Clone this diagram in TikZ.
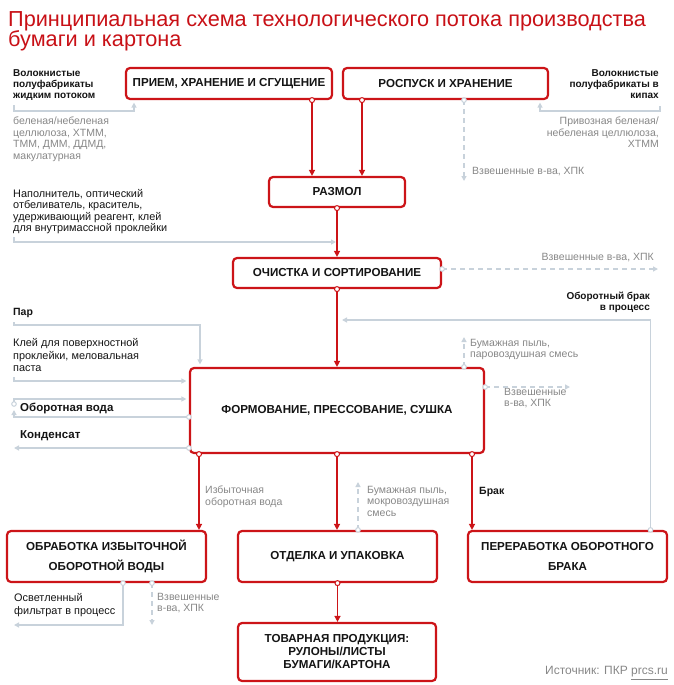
\documentclass[tikz,border=0pt]{standalone}
\usepackage{fontspec}
\setmainfont{Liberation Sans}
\usetikzlibrary{arrows.meta,positioning,calc}
\definecolor{boxred}{RGB}{204,20,24}
\definecolor{titlered}{RGB}{200,16,22}
\definecolor{linegray}{RGB}{200,210,219}
\definecolor{textgray}{RGB}{135,135,135}
\definecolor{ink}{RGB}{20,20,20}
\newcommand\titlefont{\fontsize{21.7}{20}\selectfont\lineskiplimit=-10pt\relax}
\tikzset{%
	box/.style       = {draw=boxred, line width=2.2pt, rounded corners=4pt, fill=white, align=center, text=ink, inner sep=0pt, font=\fontsize{11.6}{20}\selectfont\bfseries},
	redarrow/.style  = {draw=boxred, line width=1.4pt, -{Triangle[length=6pt,width=6pt]}},
	grayarrow/.style = {draw=linegray, line width=1.3pt, -{Triangle[length=5pt,width=5pt]}},
	graydash/.style  = {grayarrow, dash pattern=on 5pt off 4pt},
	reddot/.style    = {draw=boxred, fill=white, line width=1pt},
	graydot/.style   = {draw=linegray, fill=white, line width=1pt},
	note/.style      = {inner sep=0pt, align=left, text=textgray, font=\fontsize{10.5}{11.5}\selectfont},
	inlabel/.style   = {inner sep=0pt, align=left, text=ink, font=\fontsize{10.9}{11.5}\selectfont},
	boldlabel/.style = {inner sep=0pt, align=left, text=ink, font=\fontsize{10}{11}\selectfont\bfseries},
}

\begin{document}
\begin{tikzpicture}[x=1pt,y=-1pt]
	\useasboundingbox (0,0) rectangle (674,685);
	
	\node[anchor=north west, inner sep=0pt, align=left, text=titlered, font=\titlefont] (title) at (8,11) {Принципиальная схема технологического потока производства\\бумаги и картона};
	
	% main process
	\node[box, minimum width=206pt, minimum height=31pt] (priem) at (229,83.5) {ПРИЕМ, ХРАНЕНИЕ И СГУЩЕНИЕ};
	\node[box, minimum width=205pt, minimum height=31pt] (rospusk) at (445.5,83.5) {РОСПУСК И ХРАНЕНИЕ};
	\node[box, minimum width=136pt, minimum height=30pt] (razmol) at (337,192) {РАЗМОЛ};
	\node[box, minimum width=208pt, minimum height=30pt] (ochistka) at (337,273) {ОЧИСТКА И СОРТИРОВАНИЕ};
	\node[box, minimum width=294pt, minimum height=85pt] (formovanie) at (337,410.5) {ФОРМОВАНИЕ, ПРЕССОВАНИЕ, СУШКА};
	\node[box, minimum width=199pt, minimum height=51pt] (obrabotka) at (106.5,556.5) {ОБРАБОТКА ИЗБЫТОЧНОЙ\\ОБОРОТНОЙ ВОДЫ};
	\node[box, minimum width=199pt, minimum height=51pt] (otdelka) at (337.5,556.5) {ОТДЕЛКА И УПАКОВКА};
	\node[box, minimum width=199pt, minimum height=51pt] (pererabotka) at (567.5,556.5) {ПЕРЕРАБОТКА ОБОРОТНОГО\\БРАКА};
	\node[box, minimum width=198pt, minimum height=58pt, font=\fontsize{11.6}{13}\selectfont\bfseries] (produkcia) at (337,652) {ТОВАРНАЯ ПРОДУКЦИЯ:\\РУЛОНЫ/ЛИСТЫ\\БУМАГИ/КАРТОНА};
	
	\foreach \from/\dx/\to in {priem/83/razmol, rospusk/-83.5/razmol, razmol/0/ochistka, ochistka/0/formovanie, formovanie/-138/obrabotka, formovanie/0/otdelka, formovanie/135/pererabotka, otdelka/0/produkcia} {
		\draw[redarrow] ([xshift=\dx pt]\from.south) coordinate (s) -- (s |- \to.north);
		\draw[reddot] (s) circle[radius=2.5pt];
	}
	
	% inputs and outputs
	\node[boldlabel, anchor=north west] (zhid) at (13,69) {Волокнистые\\полуфабрикаты\\жидким потоком};
	\node[note, anchor=north west] (zhidsrc) at (13,117) {беленая/небеленая\\целлюлоза, ХТММ,\\ТММ, ДММ, ДДМД,\\макулатурная};
	\node[boldlabel, anchor=north east, align=right] (kip) at (659,69) {Волокнистые\\полуфабрикаты в\\кипах};
	\node[note, anchor=north east, align=right] (kipsrc) at (659,117) {Привозная беленая/\\небеленая целлюлоза,\\ХТММ};
	\node[note, anchor=west] (vzv1) at (472,172) {Взвешенные в-ва, ХПК};
	\node[inlabel, anchor=north west] (napol) at (13,189) {Наполнитель, оптический\\отбеливатель, краситель,\\удерживающий реагент, клей\\для внутримассной проклейки};
	\node[note, anchor=east] (vzv2) at (654,258) {Взвешенные в-ва, ХПК};
	\node[boldlabel, anchor=north east, align=right] (brakback) at (650,292) {Оборотный брак\\в процесс};
	\node[boldlabel, anchor=west, font=\fontsize{10.5}{12}\selectfont\bfseries] (par) at (13,313) {Пар};
	\node[inlabel, anchor=north west, font=\fontsize{10.9}{12.8}\selectfont] (kley) at (13,338) {Клей для поверхностной\\проклейки, меловальная\\паста};
	\node[boldlabel, anchor=west, font=\fontsize{11.5}{13}\selectfont\bfseries] (voda) at (20,408) {Оборотная вода};
	\node[boldlabel, anchor=west, font=\fontsize{11.5}{13}\selectfont\bfseries] (kond) at (20,436) {Конденсат};
	\node[note, anchor=north west] (pyl1) at (470,339) {Бумажная пыль,\\паровоздушная смесь};
	\node[note, anchor=north west] (vzv3) at (504,388) {Взвешенные\\в-ва, ХПК};
	\node[note, anchor=north west] (izb) at (205,486) {Избыточная\\оборотная вода};
	\node[note, anchor=north west] (pyl2) at (367,486) {Бумажная пыль,\\мокровоздушная\\смесь};
	\node[boldlabel, anchor=west, font=\fontsize{10.5}{12}\selectfont\bfseries] (brak) at (479,492) {Брак};
	\node[inlabel, anchor=north west, font=\fontsize{10.9}{13}\selectfont] (filtr) at (14,593) {Осветленный\\фильтрат в процесс};
	\node[note, anchor=north west] (vzv4) at (157,593) {Взвешенные\\в-ва, ХПК};
	\node[anchor=east, inner sep=0pt, text=textgray, font=\fontsize{12}{14}\selectfont] (source) at (668,673) {Источник: ПКР \underline{prcs.ru}};
	
	\coordinate (zhidend) at (14,105);
	\coordinate (kipend) at (660,106);
	\coordinate (vzv1out) at (464,181);
	\coordinate (napolend) at (14,237);
	\coordinate (napolto) at (336,242);
	\coordinate (ochout) at (658,269);
	\coordinate (brakto) at (342,320);
	\coordinate (parend) at (14,322);
	\coordinate (kleyend) at (14,377);
	\coordinate (vodaup) at (14,410);
	\coordinate (vodastart) at (14,404);
	\coordinate (kondout) at (14,448);
	\coordinate (pyl1out) at (464,337);
	\coordinate (vzv3out) at (570,387);
	\coordinate (pyl2out) at (358,482);
	\coordinate (filtrout) at (14,625);
	
	\draw[grayarrow] (zhidend) |- ([xshift=-95pt,yshift=-11pt]priem.south) -- ([xshift=-95pt,yshift=-2.5pt]priem.south);
	\draw[grayarrow] (kipend) |- ([xshift=94.5pt,yshift=-11pt]rospusk.south) -- ([xshift=94.5pt,yshift=-2.5pt]rospusk.south);
	\draw[graydash] ([xshift=18.5pt]rospusk.south) coordinate (g1) -- (g1 |- vzv1out);
	\draw[grayarrow] (napolend) |- (napolto);
	\draw[graydash] ([yshift=4pt]ochistka.east) coordinate (g2) -- (g2 -| ochout);
	\draw[grayarrow] ([xshift=83pt]pererabotka.north) coordinate (g3) |- (brakto);
	\draw[grayarrow] (parend) |- ([xshift=-137pt,yshift=42pt]formovanie.north) -- ([xshift=-137pt,yshift=2.5pt]formovanie.north);
	\draw[grayarrow] (kleyend) |- ([xshift=-2.5pt,yshift=29.5pt]formovanie.west);
	\draw[grayarrow] ([yshift=-6.5pt]formovanie.west) coordinate (g4) -| (vodaup);
	\draw[grayarrow] (vodastart) |- ([xshift=-2.5pt,yshift=11.5pt]formovanie.west);
	\draw[grayarrow] ([yshift=-37.5pt]formovanie.west) coordinate (g5) -- (g5 -| kondout);
	\draw[graydash] ([xshift=127pt]formovanie.north) coordinate (g6) -- (g6 |- pyl1out);
	\draw[graydash] ([yshift=23.5pt]formovanie.east) coordinate (g7) -- (g7 -| vzv3out);
	\draw[graydash] ([xshift=20.5pt]otdelka.north) coordinate (g8) -- (g8 |- pyl2out);
	\draw[grayarrow] ([xshift=16.5pt]obrabotka.south) coordinate (g9) |- (filtrout);
	\draw[graydash] ([xshift=45.5pt]obrabotka.south) coordinate (g10) -- (g10 |- filtrout);
	
	\foreach \c in {g1,g2,g3,g4,g5,g6,g7,g8,g9,g10,vodastart}
		\draw[graydot] (\c) circle[radius=2.3pt];
\end{tikzpicture}
\end{document}
